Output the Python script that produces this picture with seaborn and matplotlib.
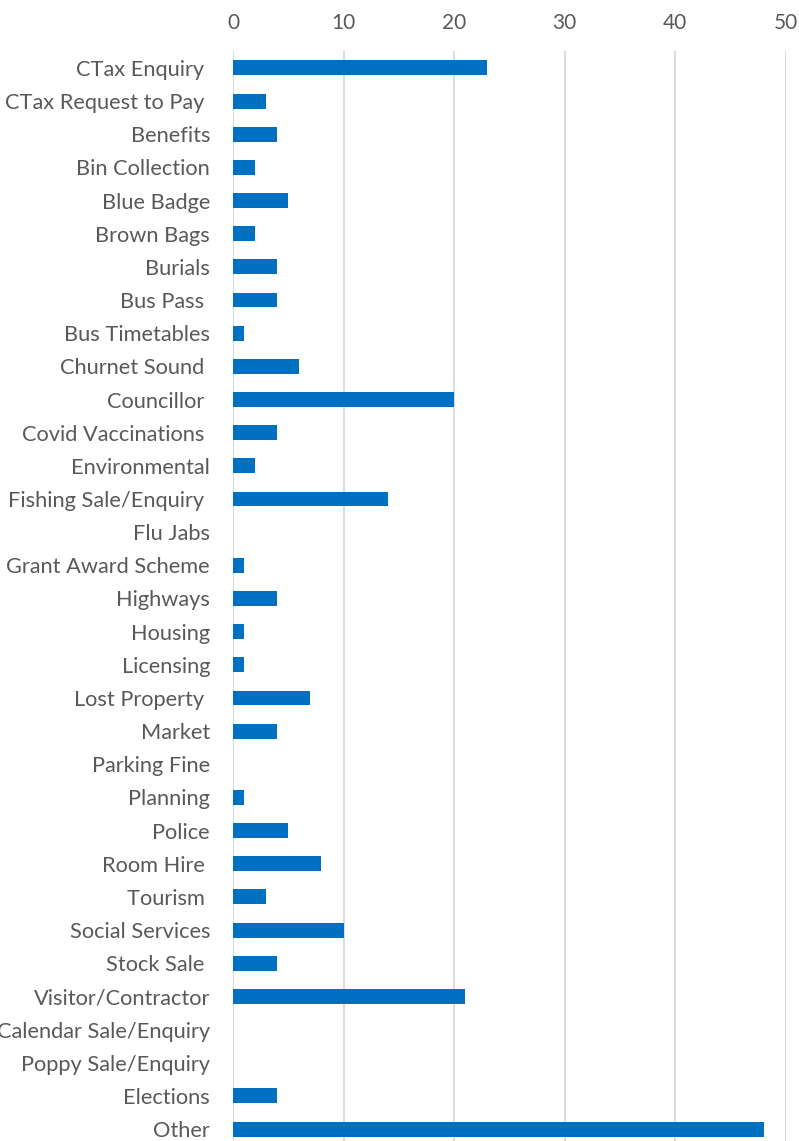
import matplotlib
matplotlib.use('Agg')
import matplotlib.pyplot as plt
import seaborn as sns
import pandas as pd

categories = [
    'CTax Enquiry ', 'CTax Request to Pay ', 'Benefits', 'Bin Collection',
    'Blue Badge', 'Brown Bags', 'Burials', 'Bus Pass ', 'Bus Timetables',
    'Churnet Sound ', 'Councillor ', 'Covid Vaccinations ', 'Environmental',
    'Fishing Sale/Enquiry ', 'Flu Jabs', 'Grant Award Scheme', 'Highways',
    'Housing', 'Licensing', 'Lost Property ', 'Market', 'Parking Fine',
    'Planning', 'Police', 'Room Hire ', 'Tourism ', 'Social Services',
    'Stock Sale ', 'Visitor/Contractor', 'Calendar Sale/Enquiry',
    'Poppy Sale/Enquiry', 'Elections', 'Other',
]
counts = [23, 3, 4, 2, 5, 2, 4, 4, 1, 6, 20, 4, 2, 14, 0, 1, 4, 1, 1, 7,
          4, 0, 1, 5, 8, 3, 10, 4, 21, 0, 0, 4, 48]
x_ticks = [0, 10, 20, 30, 40, 50]

df = pd.DataFrame({'category': categories, 'count': counts})

sns.set_theme(style='white')
plt.rcParams['font.family'] = ['Lato', 'DejaVu Sans']

fig = plt.figure(figsize=(7.99, 11.41), dpi=100)
ax = fig.add_axes([233 / 799, 0, (785.7 - 233) / 799, (1141 - 51) / 1141])

sns.barplot(data=df, x='count', y='category', color='#0070C0',
            saturation=1, width=0.45, linewidth=0, ax=ax, zorder=3)

ax.set_xlim(0, 50)
ax.set_ylim(32.36, -0.51)
ax.set_xticks(x_ticks)
ax.xaxis.tick_top()
ax.grid(axis='x', color='#D9D9D9', linewidth=1.3, zorder=0)
for s in ax.spines.values():
    s.set_visible(False)
ax.tick_params(axis='x', length=0, pad=13, labelsize=15, labelcolor='#595959')
ax.tick_params(axis='y', length=0, pad=16.5, labelsize=15.7, labelcolor='#595959')
ax.set_xlabel('')
ax.set_ylabel('')

fig.savefig('out.png', dpi=100)
